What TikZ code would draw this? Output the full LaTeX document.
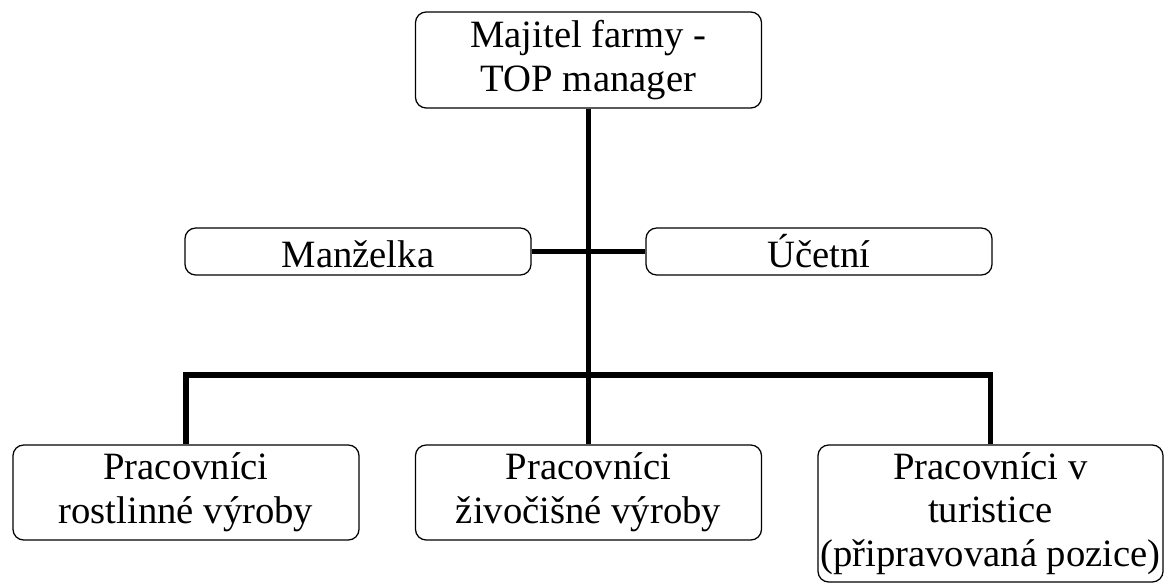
\documentclass[tikz,border=0pt]{standalone}
\usepackage{fontspec}
\setmainfont{Liberation Serif}
\usepackage{tikz}
\usetikzlibrary{positioning}

\begin{document}
\begin{tikzpicture}[x=0.025cm, y=-0.025cm,
  font=\fontsize{27.5}{31}\selectfont,
  box/.style={draw=black, line width=0.9pt, rounded corners=0.27cm,
              align=center, inner sep=0pt, minimum width=8.65cm},
  single/.style={box, minimum height=1.175cm},
  conn/.style={line width=4.2pt}]
\useasboundingbox (0,0) rectangle (1165,586);
% --- owner and staff beside him ---
\node[box, minimum height=2.4cm] (boss) at (588.5,60)
  {Majitel farmy -\\TOP manager};
\node[single] (wife) at (358,251.5) {\vphantom{Ú}Manželka};
\node[single] (acct) at (819,251.5) {Účetní};
% --- workers row ---
\node[box, minimum height=2.375cm] (plant) at (186,492.5)
  {Pracovníci\\rostlinné výroby};
\node[box, minimum height=2.375cm] (animal) at (588.5,492.5)
  {Pracovníci\\živočišné výroby};
\node[box, minimum height=3.425cm, minimum width=8.625cm] (tour) at (990.5,513.5)
  {Pracovníci v\\turistice\\(připravovaná pozice)};
% --- connectors ---
\coordinate (bus) at (588.5,375);
\draw[conn] (boss.south) -- (animal.north);
\draw[conn] (wife.east) -- (acct.west);
\draw[conn] (plant.north) |- (bus) -| (tour.north);
\end{tikzpicture}
\end{document}
